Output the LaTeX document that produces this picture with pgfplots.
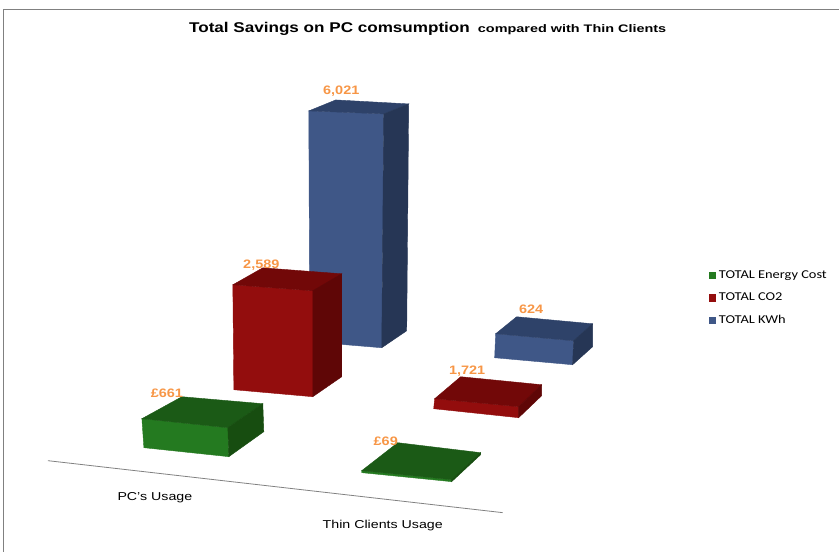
\documentclass[border=0pt]{standalone}
\usepackage{pgfplots}
\pgfplotsset{compat=1.18}
\usepackage{fontspec}
\setmainfont{Liberation Sans}
\newfontfamily\legendfont{Carlito}
\definecolor{gfront}{HTML}{247A20}
\definecolor{gtop}{HTML}{1B5A16}
\definecolor{gside}{HTML}{174D10}
\definecolor{rfront}{HTML}{930D0D}
\definecolor{rtop}{HTML}{720808}
\definecolor{rside}{HTML}{5F0606}
\definecolor{bfront}{HTML}{3F5787}
\definecolor{btop}{HTML}{2E4269}
\definecolor{bside}{HTML}{263655}
\definecolor{lab}{HTML}{F79646}
\definecolor{rule}{HTML}{808080}
\pgfplotsset{
  face/.style={fill=#1, draw=#1, line width=0.3pt, forget plot, mark=none},
}
\tikzset{
  val/.style={font=\bfseries\fontsize{9.2}{10}\selectfont, text=lab, inner sep=0pt},
  cat/.style={font=\fontsize{8.6}{10}\selectfont, inner sep=0pt},
}
\newcommand{\legtext}[1]{\scalebox{1.2}[1]{#1}}
\begin{document}
\begin{tikzpicture}
\begin{axis}[
    scale only axis, width=630pt, height=414pt,
    xmin=0, xmax=840, ymin=0, ymax=552, y dir=reverse,
    axis lines=none, clip=false,
    legend style={draw=none, fill=none, at={(axis cs:709,268)}, anchor=north west,
        font=\legendfont\fontsize{9}{10}\selectfont, row sep=5.5pt,
        inner sep=0pt, outer sep=0pt,
        /tikz/every even column/.style={column sep=3.5pt}},
    legend cell align=left,
    legend image code/.code={\fill[#1] (0pt,-2.8pt) rectangle (5.8pt,2.8pt);},
]
% page extent
\addplot[draw=none, forget plot] coordinates {(0,0) (840,552)};

% frame
\addplot[draw=rule, line width=0.9pt, forget plot] coordinates {(3.5,552) (3.5,9.5) (840,9.5)};

% axis line
\addplot[draw=rule, line width=0.6pt, forget plot] coordinates {(48,461) (503,513)};

% blue, PC's usage (6,021)
\addplot[face=bfront] coordinates {(309,111) (384,114) (382,348) (310,342)} --cycle;
\addplot[face=btop] coordinates {(309,111) (336,100) (409,104) (384,114)} --cycle;
\addplot[face=bside] coordinates {(384,114) (409,104) (407,331) (382,348)} --cycle;

% red, PC's usage (2,589)
\addplot[face=rfront] coordinates {(233,285) (313,291) (313,397) (234,390)} --cycle;
\addplot[face=rtop] coordinates {(233,285) (263,268) (342,274) (313,291)} --cycle;
\addplot[face=rside] coordinates {(313,291) (342,274) (342,377) (313,397)} --cycle;

% green, PC's usage (661)
\addplot[face=gfront] coordinates {(142,419) (228,428) (229,457) (144,448)} --cycle;
\addplot[face=gtop] coordinates {(142,419) (182,397) (263,404) (228,428)} --cycle;
\addplot[face=gside] coordinates {(228,428) (263,404) (264,432) (229,457)} --cycle;

% blue, thin clients (624)
\addplot[face=bfront] coordinates {(496,334) (574,341) (573,365) (495,358)} --cycle;
\addplot[face=btop] coordinates {(496,334) (517,317) (593,324) (574,341)} --cycle;
\addplot[face=bside] coordinates {(574,341) (593,324) (593,347) (573,365)} --cycle;

% red, thin clients (1,721)
\addplot[face=rfront] coordinates {(435,399) (519,407) (519,418) (434,409)} --cycle;
\addplot[face=rtop] coordinates {(435,399) (461,377) (542,385) (519,407)} --cycle;
\addplot[face=rside] coordinates {(519,407) (542,385) (542,396) (519,418)} --cycle;

% green, thin clients (69)
\addplot[face=gfront] coordinates {(362,471) (452,480) (452,482) (362,473)} --cycle;
\addplot[face=gtop] coordinates {(362,471) (398,443) (481,453) (452,480)} --cycle;
\addplot[face=gside] coordinates {(452,480) (481,453) (481,455) (452,482)} --cycle;

% legend
\addlegendimage{fill=gfront, draw=none}
\addlegendentry{\legtext{TOTAL Energy Cost}}
\addlegendimage{fill=rfront, draw=none}
\addlegendentry{\legtext{TOTAL CO2}}
\addlegendimage{fill=bfront, draw=none}
\addlegendentry{\legtext{TOTAL KWh}}

% value labels
\node[val] at (axis cs:341.5,91) {\scalebox{1.18}[1]{6,021}};
\node[val] at (axis cs:261.5,265) {\scalebox{1.18}[1]{2,589}};
\node[val] at (axis cs:167,394) {\scalebox{1.18}[1]{£661}};
\node[val] at (axis cs:386,442) {\scalebox{1.18}[1]{£69}};
\node[val] at (axis cs:531.5,309) {\scalebox{1.18}[1]{624}};
\node[val] at (axis cs:467.5,371) {\scalebox{1.18}[1]{1,721}};

% category labels
\node[cat] at (axis cs:155,498) {\scalebox{1.24}[1]{PC's Usage}};
\node[cat] at (axis cs:383,526) {\scalebox{1.24}[1]{Thin Clients Usage}};

% title
\node[anchor=base west, font=\bfseries\fontsize{10.6}{12}\selectfont, inner sep=0pt] at (axis cs:189,33) {\scalebox{1.21}[1]{Total Savings on PC comsumption}};
\node[anchor=base west, font=\bfseries\fontsize{8.2}{12}\selectfont, inner sep=0pt] at (axis cs:478,33) {\scalebox{1.32}[1]{compared with Thin Clients}};
\end{axis}
\end{tikzpicture}
\end{document}
